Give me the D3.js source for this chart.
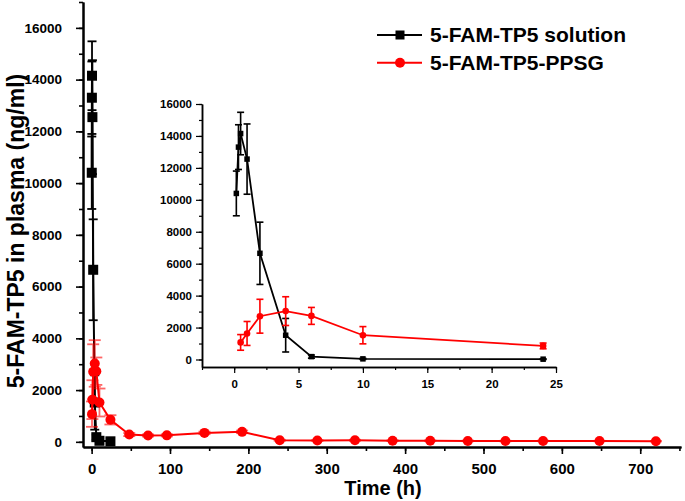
<!DOCTYPE html>
<html>
<head>
<meta charset="utf-8">
<script src="https://cdn.jsdelivr.net/npm/d3@7"></script>
<style>
  body { margin: 0; background: #fff; }
  svg text { font-family: Arial, "Liberation Sans", sans-serif; font-weight: bold; fill: #000; }
</style>
</head>
<body>
<div id="chart"></div>
<script>
var width = 685;
var height = 501;

// 5-FAM-TP5 solution
var solTime = [0.167, 0.333, 0.5, 1, 2, 4, 6, 10, 24];
var solConc = [10400, 13300, 14150, 12550, 6650, 1520, 180, 40, 20];
var solSD = [1400, 1400, 1330, 2200, 1950, 1050, 100, 30, 20];

// 5-FAM-TP5-PPSG
var gelTime = [0.5, 1, 2, 4, 6, 10, 24, 48, 72, 96, 144, 192, 240, 288, 336, 384, 432, 480, 528, 576, 648, 720];
var gelConc = [1070, 1630, 2710, 3030, 2730, 1520, 850, 280, 245, 250, 345, 385, 60, 50, 60, 45, 40, 35, 30, 35, 30, 25];
var gelSD = [490, 750, 1060, 900, 530, 540, 180, 60, 40, 40, 50, 50, 20, 20, 20, 15, 15, 15, 10, 10, 10, 10];

var seriesNames = ['5-FAM-TP5 solution', '5-FAM-TP5-PPSG'];
var seriesColors = ['#000000', '#ff0000'];

var mainXTicks = [0, 100, 200, 300, 400, 500, 600, 700];
var mainYTicks = [0, 2000, 4000, 6000, 8000, 10000, 12000, 14000, 16000];
var insetXTicks = [0, 5, 10, 15, 20, 25];
var insetYTicks = [0, 2000, 4000, 6000, 8000, 10000, 12000, 14000, 16000];

var svg = d3.select('#chart').append('svg')
  .attr('width', width)
  .attr('height', height);

// ---- main chart ----
var x = d3.scaleLinear().domain([-11, 752]).range([83, 681]);
var y = d3.scaleLinear().domain([-200, 17000]).range([447, 2]);

var main = svg.append('g');

drawAxes(main, x, y, {
  xTicks: mainXTicks, xMinor: d3.range(0, 751, 50),
  yTicks: mainYTicks, yMinor: d3.range(0, 17001, 1000),
  major: 7, minor: 4, xFont: 15, yFont: 13.5, width: 2,
  xPad: 12, yPad: 21
});

plotSeries(main, x, y, solTime, solConc, solSD, {
  color: seriesColors[0], shape: 'square', size: 10, line: 2, cap: 9, errOpacity: 1
});
plotSeries(main, x, y, gelTime, gelConc, gelSD, {
  color: seriesColors[1], shape: 'circle', size: 5, line: 2, cap: 12, errOpacity: 0.6
});

main.append('text')
  .attr('x', 383).attr('y', 495)
  .attr('text-anchor', 'middle')
  .style('font-size', '20px')
  .text('Time (h)');

main.append('text')
  .attr('transform', 'translate(24,231) rotate(-90)')
  .attr('text-anchor', 'middle')
  .style('font-size', '23px')
  .text('5-FAM-TP5 in plasma (ng/ml)');

// ---- legend ----
var legend = svg.append('g');
seriesNames.forEach(function (name, i) {
  var ly = 35 + i * 27.7;
  legend.append('line')
    .attr('x1', 377).attr('x2', 422).attr('y1', ly).attr('y2', ly)
    .style('stroke', seriesColors[i]).style('stroke-width', 2);
  if (i == 0) {
    legend.append('rect')
      .attr('x', 400 - 4.5).attr('y', ly - 4.5).attr('width', 9).attr('height', 9)
      .style('fill', seriesColors[i]);
  } else {
    legend.append('circle')
      .attr('cx', 400).attr('cy', ly).attr('r', 5)
      .style('fill', seriesColors[i]);
  }
  legend.append('text')
    .attr('x', 430).attr('y', ly + 7)
    .style('font-size', '21px')
    .text(name);
});

// ---- inset ----
var ix = d3.scaleLinear().domain([-2.5, 25]).range([202, 556]);
var iy = d3.scaleLinear().domain([-470, 16000]).range([367, 104]);

var inset = svg.append('g');

drawAxes(inset, ix, iy, {
  xTicks: insetXTicks, xMinor: d3.range(-2.5, 25.1, 2.5),
  yTicks: insetYTicks, yMinor: d3.range(0, 16001, 1000),
  major: 6, minor: 3, xFont: 11.5, yFont: 11.5, width: 1.5,
  xPad: 9, yPad: 10
});

plotSeries(inset, ix, iy, solTime, solConc, solSD, {
  color: seriesColors[0], shape: 'square', size: 5.5, line: 1.8, cap: 7, errOpacity: 1
});
plotSeries(inset, ix, iy, gelTime.slice(0, 7), gelConc.slice(0, 7), gelSD.slice(0, 7), {
  color: seriesColors[1], shape: 'circle', size: 3.3, line: 1.8, cap: 7, errOpacity: 1
});

function drawAxes(g, xs, ys, o) {
  var x0 = xs.range()[0], y0 = ys.range()[0];
  var fmt = d3.format('d');

  // minor ticks
  g.append('g')
    .attr('transform', 'translate(0,' + y0 + ')')
    .call(d3.axisBottom(xs).tickValues(o.xMinor).tickSize(o.minor).tickFormat('').tickSizeOuter(0))
    .call(styleAxis, o);
  g.append('g')
    .attr('transform', 'translate(' + x0 + ',0)')
    .call(d3.axisLeft(ys).tickValues(o.yMinor).tickSize(o.minor).tickFormat('').tickSizeOuter(0))
    .call(styleAxis, o);

  // major ticks + labels
  var xa = g.append('g')
    .attr('transform', 'translate(0,' + y0 + ')')
    .call(d3.axisBottom(xs).tickValues(o.xTicks).tickFormat(fmt).tickSize(o.major).tickPadding(o.xPad - o.major + 4).tickSizeOuter(0))
    .call(styleAxis, o);
  xa.selectAll('text').style('font-size', o.xFont + 'px');

  var ya = g.append('g')
    .attr('transform', 'translate(' + x0 + ',0)')
    .call(d3.axisLeft(ys).tickValues(o.yTicks).tickFormat(fmt).tickSize(o.major).tickPadding(o.yPad - o.major).tickSizeOuter(0))
    .call(styleAxis, o);
  ya.selectAll('text').style('font-size', o.yFont + 'px');
}

function styleAxis(sel, o) {
  sel.select('.domain').style('stroke', '#000').style('stroke-width', o.width);
  sel.selectAll('.tick line').style('stroke', '#000').style('stroke-width', o.width * 0.8);
  sel.selectAll('text').style('font-family', 'Arial, "Liberation Sans", sans-serif').style('font-weight', 'bold');
}

function plotSeries(g, xs, ys, time, conc, sd, o) {
  var pts = time.map(function (t, i) { return { t: t, v: conc[i], e: sd[i] }; });

  var line = d3.line()
    .x(function (d) { return xs(d.t); })
    .y(function (d) { return ys(d.v); });

  g.append('path')
    .datum(pts)
    .attr('d', line)
    .style('fill', 'none')
    .style('stroke', o.color)
    .style('stroke-width', o.line);

  var err = g.append('g')
    .style('stroke', o.color)
    .style('stroke-width', o.line * 0.9)
    .style('opacity', o.errOpacity);

  pts.forEach(function (d) {
    var cx = xs(d.t);
    err.append('line')
      .attr('x1', cx).attr('x2', cx)
      .attr('y1', ys(d.v - d.e)).attr('y2', ys(d.v + d.e));
    [d.v - d.e, d.v + d.e].forEach(function (v) {
      err.append('line')
        .attr('x1', cx - o.cap / 2).attr('x2', cx + o.cap / 2)
        .attr('y1', ys(v)).attr('y2', ys(v));
    });
  });

  if (o.shape == 'square') {
    g.selectAll(null)
      .data(pts)
      .enter().append('rect')
      .attr('x', function (d) { return xs(d.t) - o.size / 2; })
      .attr('y', function (d) { return ys(d.v) - o.size / 2; })
      .attr('width', o.size)
      .attr('height', o.size)
      .style('fill', o.color);
  } else {
    g.selectAll(null)
      .data(pts)
      .enter().append('circle')
      .attr('cx', function (d) { return xs(d.t); })
      .attr('cy', function (d) { return ys(d.v); })
      .attr('r', o.size)
      .style('fill', o.color);
  }
}
</script>
</body>
</html>
